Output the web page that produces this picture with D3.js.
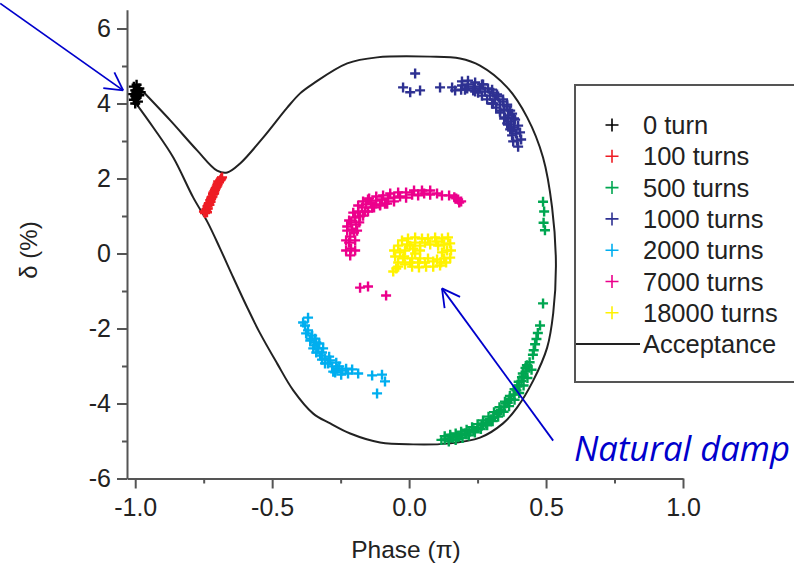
<!DOCTYPE html>
<html>
<head>
<meta charset="utf-8">
<script src="https://cdn.jsdelivr.net/npm/d3@7"></script>
<style>
  html, body { margin: 0; padding: 0; background: #fff; }
  svg { display: block; }
  text { font-family: "Liberation Sans", Arial, Helvetica, sans-serif; fill: #222; }
</style>
</head>
<body>
<svg id="chart" width="794" height="565"></svg>
<script>
// ---------------- DATA ----------------
const xTicks = [-1.0, -0.5, 0.0, 0.5, 1.0];
const xMinorTicks = [-0.75, -0.25, 0.25, 0.75];
const yTicks = [-6, -4, -2, 0, 2, 4, 6];
const yMinorTicks = [-5, -3, -1, 1, 3, 5];

const seriesNames = ["0 turn", "100 turns", "500 turns", "1000 turns", "2000 turns", "7000 turns", "18000 turns"];
const seriesColors = ["#000000", "#ee1c24", "#00a651", "#2e3192", "#00aeef", "#ec008c", "#fff200"];

const turn0 = [[-1.005,4.45],[-0.995,4.5],[-0.985,4.4],[-1.0,4.35],[-0.99,4.3],[-1.01,4.25],[-0.985,4.22],
  [-0.995,4.15],[-1.005,4.1],[-0.99,4.05],[-0.98,4.3],[-1.0,4.2],[-0.99,4.38],[-1.0,4.0]];

const turn100 = [[-0.745,1.08],[-0.740,1.18],[-0.736,1.26],[-0.731,1.34],[-0.726,1.42],[-0.721,1.50],
  [-0.716,1.58],[-0.711,1.66],[-0.706,1.74],[-0.700,1.82],[-0.694,1.90],[-0.688,1.97],[-0.683,2.03],
  [-0.735,1.20],[-0.725,1.38],[-0.712,1.60],[-0.699,1.86],[-0.742,1.14],[-0.718,1.52],[-0.690,1.95],
  [-0.738,1.10],[-0.733,1.30],[-0.723,1.46],[-0.709,1.70],[-0.697,1.92],[-0.686,2.00],[-0.749,1.12],
  [-0.729,1.30],[-0.715,1.62],[-0.703,1.78]];

const turn500 = [[0.489,1.38],[0.493,1.12],[0.491,0.82],[0.496,0.62],[0.489,-1.33],
  [0.478,-1.92],[0.470,-2.12],[0.465,-2.28],[0.460,-2.42],[0.455,-2.58],[0.452,-2.70],
  [0.440,-2.90],[0.432,-3.02],[0.425,-3.15],[0.418,-3.28],[0.410,-3.40],[0.402,-3.52],[0.392,-3.65],
  [0.382,-3.76],[0.372,-3.88],[0.360,-3.98],[0.348,-4.08],[0.336,-4.18],[0.322,-4.28],[0.308,-4.36],
  [0.294,-4.45],[0.280,-4.52],[0.265,-4.59],[0.250,-4.65],[0.235,-4.71],[0.220,-4.76],[0.205,-4.80],
  [0.190,-4.84],[0.175,-4.88],[0.160,-4.91],[0.145,-4.94],[0.130,-4.96],[0.118,-4.97],
  [0.425,-3.05],[0.395,-3.55],[0.365,-3.90],[0.330,-4.20],[0.300,-4.42],[0.270,-4.53],[0.240,-4.73],
  [0.210,-4.82],[0.180,-4.90],[0.150,-4.88],[0.412,-3.30],[0.352,-4.00],
  [0.430,-2.98],[0.415,-3.20],[0.400,-3.42],[0.385,-3.62],[0.368,-3.80],[0.350,-3.95],[0.330,-4.10],
  [0.310,-4.23],[0.290,-4.35],[0.270,-4.45],[0.250,-4.55],[0.230,-4.63],[0.210,-4.70],[0.190,-4.75],
  [0.170,-4.80],[0.150,-4.83],[0.130,-4.87],
  [0.447,-3.10],[0.432,-3.32],[0.418,-3.52],[0.402,-3.72],[0.385,-3.90],[0.365,-4.07],[0.345,-4.22],
  [0.325,-4.35],[0.305,-4.47],[0.285,-4.58],[0.262,-4.68],[0.240,-4.77],[0.218,-4.85],[0.195,-4.92],
  [0.170,-4.97],[0.145,-5.01]];

const turn1000 = [[0.022,4.80],[-0.022,4.43],[0.040,4.35],[0.004,4.30],[0.113,4.43],[0.157,4.43],
  [0.193,4.48],[0.215,4.51],[0.237,4.45],[0.259,4.40],[0.277,4.32],[0.296,4.21],[0.314,4.11],
  [0.332,3.97],[0.347,3.84],[0.361,3.68],[0.372,3.52],[0.383,3.36],[0.391,3.20],[0.394,3.01],[0.398,2.85],
  [0.204,4.37],[0.241,4.32],[0.270,4.51],[0.303,4.37],[0.321,4.24],[0.343,4.11],[0.307,4.00],[0.358,3.97],
  [0.332,3.81],[0.369,3.81],[0.350,3.63],[0.383,3.60],[0.361,3.44],[0.376,3.28],[0.168,4.35],
  [0.193,4.59],[0.215,4.61],[0.241,4.56],[0.266,4.51],[0.288,4.40],[0.307,4.29],[0.325,4.19],[0.343,4.05],
  [0.358,3.92],[0.376,3.73],[0.387,3.57],[0.398,3.41],[0.405,3.23],[0.409,3.04],
  [0.190,4.37],[0.212,4.40],[0.234,4.35],[0.252,4.29],[0.266,4.21],[0.285,4.11],[0.303,4.00],[0.318,3.89],
  [0.332,3.76],[0.347,3.60],[0.358,3.47],[0.369,3.31],[0.376,3.15],[0.380,2.99]];

const turn2000 = [[-0.369,-1.71],[-0.380,-1.92],[-0.369,-2.05],[-0.354,-2.19],[-0.361,-2.32],[-0.339,-2.37],
  [-0.332,-2.53],[-0.318,-2.64],[-0.307,-2.80],[-0.288,-2.85],[-0.281,-3.01],[-0.263,-3.07],[-0.245,-3.12],
  [-0.270,-3.17],[-0.347,-2.45],[-0.325,-2.72],[-0.296,-2.93],[-0.208,-3.09],[-0.186,-3.20],[-0.135,-3.25],
  [-0.099,-3.23],[-0.088,-3.41],[-0.117,-3.73],
  [-0.387,-1.84],[-0.376,-2.13],[-0.358,-2.27],[-0.343,-2.27],[-0.350,-2.53],[-0.328,-2.40],[-0.314,-2.53],
  [-0.339,-2.64],[-0.307,-2.93],[-0.292,-2.75],[-0.266,-2.91],[-0.255,-3.01],[-0.277,-3.15],[-0.230,-3.07],
  [-0.248,-3.23],[-0.223,-3.20],[-0.318,-2.83]];

const turn7000 = [[-0.215,-0.05],[-0.212,0.13],[-0.219,0.29],[-0.215,0.45],[-0.208,0.64],[-0.212,0.83],
  [-0.197,0.96],[-0.186,1.12],[-0.172,1.23],[-0.157,1.31],[-0.139,1.36],[-0.120,1.41],[-0.099,1.44],
  [-0.077,1.47],[-0.055,1.49],[-0.033,1.52],[-0.011,1.49],[0.011,1.57],[0.033,1.55],[0.055,1.60],
  [0.077,1.57],[0.102,1.60],[0.120,1.55],[0.146,1.55],[0.179,1.44],[0.190,1.39],
  [-0.193,0.77],[-0.179,0.99],[-0.161,1.12],[-0.135,1.23],[-0.106,1.31],[-0.088,1.33],[-0.150,1.44],
  [-0.201,0.56],[-0.226,0.72],[-0.179,-0.91],[-0.150,-0.88],[-0.084,-1.12],
  [-0.230,0.08],[-0.230,0.35],[-0.226,0.61],[-0.219,0.88],[-0.204,1.09],[-0.186,1.28],[-0.168,1.39],
  [-0.146,1.47],[-0.120,1.52],[-0.095,1.55],[-0.069,1.60],[-0.040,1.63],[-0.011,1.63],[0.018,1.68],
  [0.047,1.68],[0.077,1.68],
  [-0.197,0.08],[-0.197,0.35],[-0.190,0.61],[-0.182,0.83],[-0.168,1.01],[-0.150,1.12],[-0.128,1.23],
  [-0.106,1.28],[-0.080,1.33],[-0.055,1.39],[0.165,1.50],[0.183,1.36],[0.172,1.47]];

const turn18000 = [[-0.040,0.21],[-0.026,0.35],[-0.004,0.40],[0.022,0.43],[0.047,0.40],[0.069,0.40],
  [0.095,0.43],[0.120,0.40],[0.142,0.43],[0.150,0.27],[0.153,0.08],[0.150,-0.11],[0.135,-0.24],
  [0.113,-0.32],[0.088,-0.35],[0.062,-0.35],[0.036,-0.37],[0.011,-0.35],[-0.015,-0.29],[-0.040,-0.24],
  [-0.051,-0.08],[-0.055,0.08],[-0.047,-0.40],[-0.058,-0.48],[-0.015,0.08],[0.004,0.21],[0.022,0.00],
  [0.040,-0.13],[0.011,-0.13],[0.106,0.21],[0.120,0.03],[0.102,-0.16],[0.058,-0.24],[-0.018,-0.08],
  [0.040,0.21],[0.077,0.24],[0.128,0.24],
  [-0.033,0.03],[-0.007,0.24],[0.015,0.13],[0.033,-0.24],[0.069,-0.13],[0.088,-0.21],[0.128,-0.13],
  [0.139,0.08],[0.099,0.32],[0.058,0.29],[0.022,0.29],[-0.022,-0.13],[-0.040,-0.35],[0.004,-0.24],
  [0.117,-0.24],[0.040,0.08]];

const acceptance = [[-0.982,4.40],[-0.872,3.55],[-0.774,2.75],[-0.701,2.21],[-0.664,2.16],[-0.617,2.40],
  [-0.533,3.09],[-0.445,3.89],[-0.398,4.27],[-0.350,4.53],[-0.226,5.07],[-0.117,5.23],[0.077,5.25],
  [0.186,5.20],[0.259,5.01],[0.358,4.43],[0.431,3.63],[0.489,2.56],[0.522,1.23],[0.536,-0.27],
  [0.526,-1.60],[0.504,-2.51],[0.453,-3.39],[0.394,-4.11],[0.343,-4.53],[0.259,-4.91],[0.139,-5.07],
  [0.015,-5.09],[-0.106,-5.04],[-0.215,-4.80],[-0.288,-4.53],[-0.350,-4.27],[-0.423,-3.65],[-0.482,-2.93],
  [-0.544,-2.13],[-0.591,-1.44],[-0.642,-0.64],[-0.690,0.13],[-0.737,0.85],[-0.788,1.49],
  [-0.861,2.56],[-0.934,3.36],[-1.0,4.03]];

const seriesData = [turn0, turn100, turn500, turn1000, turn2000, turn7000, turn18000];

// annotation arrows in data coordinates: [tail, tip]
const arrowTop = [[-1.493, 6.67], [-1.044, 4.35]];
const arrowDamp = [[0.526, -4.99], [0.120, -0.93]];
const dampText = "Natural damp";

// ---------------- DRAW ----------------
const svg = d3.select("#chart");
const x = d3.scaleLinear().domain([-1.03, 1.0]).range([127, 683]);
const y = d3.scaleLinear().domain([-6, 6.5]).range([478.5, 9.75]);
const axisColor = "#555";
const font = '"Liberation Sans", Arial, sans-serif';

// Acceptance curve
const line = d3.line().x(d => x(d[0])).y(d => y(d[1])).curve(d3.curveCatmullRom.alpha(0.5));
svg.append("path").datum(acceptance)
  .attr("d", line).attr("fill", "none").attr("stroke", "#222").attr("stroke-width", 2);

// Scatter points as "+" markers
const plus = s => `M${-s},0H${s}M0,${-s}V${s}`;
seriesData.forEach((pts, i) => {
  svg.append("g").selectAll("path").data(pts).join("path")
    .attr("transform", d => `translate(${x(d[0])},${y(d[1])})`)
    .attr("d", plus(5))
    .attr("fill", "none")
    .attr("stroke", seriesColors[i])
    .attr("stroke-width", 2.4);
});

// Axes
function styleAxis(g) {
  g.select(".domain").attr("stroke", axisColor).attr("stroke-width", 2);
  g.selectAll(".tick line").attr("stroke", axisColor).attr("stroke-width", 2);
  g.selectAll(".tick text").attr("font-size", 25).attr("fill", "#222").attr("font-family", font);
}
const gx = svg.append("g").attr("transform", `translate(0,${y(-6)})`)
  .call(d3.axisBottom(x).tickValues(xTicks).tickSize(10).tickSizeOuter(0).tickPadding(10)
    .tickFormat(d => d.toFixed(1)));
styleAxis(gx);
const gxm = svg.append("g").attr("transform", `translate(0,${y(-6)})`)
  .call(d3.axisBottom(x).tickValues(xMinorTicks).tickSize(5).tickSizeOuter(0).tickFormat(""));
styleAxis(gxm);
gxm.select(".domain").remove();

const gy = svg.append("g").attr("transform", `translate(${x(-1.03)},0)`)
  .call(d3.axisLeft(y).tickValues(yTicks).tickSize(10).tickSizeOuter(0).tickPadding(6)
    .tickFormat(d => String(d)));
styleAxis(gy);
const gym = svg.append("g").attr("transform", `translate(${x(-1.03)},0)`)
  .call(d3.axisLeft(y).tickValues(yMinorTicks).tickSize(5).tickSizeOuter(0).tickFormat(""));
styleAxis(gym);
gym.select(".domain").remove();

// Axis titles
svg.append("text").attr("x", 406).attr("y", 558).attr("text-anchor", "middle")
  .attr("font-size", 24.5).text("Phase (π)");
svg.append("text").attr("transform", "translate(37,250) rotate(-90)").attr("text-anchor", "middle")
  .attr("font-size", 24).text("δ (%)");

// Legend
const lg = svg.append("g");
lg.append("rect").attr("x", 575).attr("y", 85).attr("width", 260).attr("height", 297)
  .attr("fill", "#fff").attr("stroke", axisColor).attr("stroke-width", 2);
const rowY = i => 125 + i * 31.3;
seriesNames.forEach((name, i) => {
  lg.append("path").attr("transform", `translate(612,${rowY(i)})`).attr("d", plus(6.5))
    .attr("stroke", seriesColors[i]).attr("stroke-width", 1.6).attr("fill", "none");
  lg.append("text").attr("x", 643).attr("y", rowY(i)).attr("dy", "0.36em")
    .attr("font-size", 25.5).text(name);
});
const accY = rowY(seriesNames.length);
lg.append("line").attr("x1", 576).attr("x2", 640).attr("y1", accY).attr("y2", accY)
  .attr("stroke", "#222").attr("stroke-width", 2);
lg.append("text").attr("x", 643).attr("y", accY).attr("dy", "0.36em").attr("font-size", 25.5).text("Acceptance");

// Annotations (blue arrows)
const blue = "#0000cc";
function arrow(a) {
  const [t0, t1] = a.map(p => [x(p[0]), y(p[1])]);
  svg.append("line").attr("x1", t0[0]).attr("y1", t0[1]).attr("x2", t1[0]).attr("y2", t1[1])
    .attr("stroke", blue).attr("stroke-width", 1.8);
  const ang = Math.atan2(t0[1] - t1[1], t0[0] - t1[0]);
  [-0.5, 0.5].forEach(off => {
    svg.append("line").attr("x1", t1[0]).attr("y1", t1[1])
      .attr("x2", t1[0] + 20 * Math.cos(ang + off)).attr("y2", t1[1] + 20 * Math.sin(ang + off))
      .attr("stroke", blue).attr("stroke-width", 1.8);
  });
}
arrow(arrowTop);
arrow(arrowDamp);
svg.append("text").attr("x", 574).attr("y", 461).attr("font-size", 35)
  .attr("font-style", "italic").attr("textLength", 216).attr("lengthAdjust", "spacingAndGlyphs")
  .style("font-family", '"Open Sans", "Noto Sans", sans-serif')
  .style("fill", blue).text(dampText);
</script>
</body>
</html>
